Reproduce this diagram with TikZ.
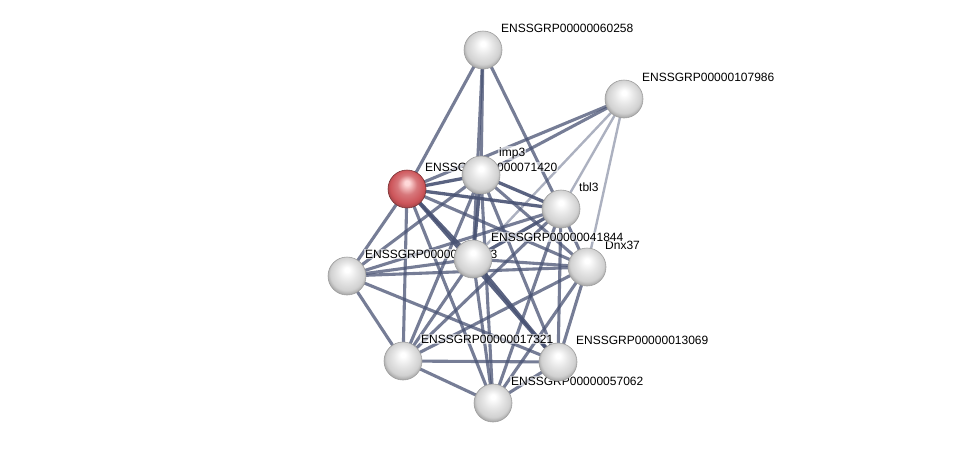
\documentclass[tikz,border=0pt]{standalone}
\usepackage{fontspec}
\setmainfont{Liberation Sans}
\usetikzlibrary{calc}
\definecolor{edgec}{RGB}{72,82,115}
\definecolor{redbody}{RGB}{205,85,90}
\pgfdeclareradialshading{gball}{\pgfpoint{0bp}{9bp}}{color(0bp)=(white); color(3bp)=(white); color(13bp)=(black!10); color(22bp)=(black!18); color(28bp)=(black!40); color(34bp)=(black!50)}
\pgfdeclareradialshading{rball}{\pgfpoint{0bp}{9bp}}{color(0bp)=(red!15!white); color(3bp)=(red!15!white); color(13bp)=(redbody!80!white); color(22bp)=(redbody); color(28bp)=(redbody!75!black); color(34bp)=(redbody!60!black)}
\begin{document}
\begin{tikzpicture}[x=1pt,y=-1pt,
  e/.style={draw=edgec,line width=3.1pt,opacity=0.75},
  ed/.style={draw=edgec,line width=3.3pt,opacity=0.9},
  el/.style={draw=edgec,line width=2.4pt,opacity=0.45},
  ball/.style={circle,minimum size=38pt,inner sep=0pt,shading=gball,draw=gray!75,line width=0.6pt},
  redball/.style={ball,shading=rball,draw=redbody!60!black},
  lab/.style={anchor=west,font=\fontsize{12}{14}\selectfont,inner sep=1pt,fill=white,fill opacity=0.6,text opacity=1}]
\useasboundingbox (0,0) rectangle (976,448);
\coordinate (cA) at (483,50);
\coordinate (cB) at (624,99);
\coordinate (cR) at (407,189);
\coordinate (cI) at (481,175);
\coordinate (cT) at (561,209);
\coordinate (cM) at (473,259);
\coordinate (cD) at (587,267);
\coordinate (cL) at (347,276);
\coordinate (cP) at (403,361);
\coordinate (cQ) at (558,362);
\coordinate (cS) at (493,403);
% edges
\draw[e] (cR) -- (cA); \draw[e] (cR) -- (cB); \draw[ed] (cR) -- (cI); \draw[ed] (cR) -- (cT);
\draw[ed] (cR) -- (cM); \draw[e] (cR) -- (cD); \draw[e] (cR) -- (cL); \draw[e] (cR) -- (cP);
\draw[ed] (cR) -- (cQ); \draw[e] (cR) -- (cS);
\draw[e] (cI) -- (cA); \draw[e] (cI) -- (cB); \draw[ed] (cI) -- (cT); \draw[ed] (cI) -- (cM);
\draw[e] (cI) -- (cD); \draw[e] (cI) -- (cL); \draw[e] (cI) -- (cP); \draw[e] (cI) -- (cQ); \draw[e] (cI) -- (cS);
\draw[e] (cA) -- (cT); \draw[e] (cA) -- (cM);
\draw[el] (cB) -- (cM); \draw[el] (cB) -- (cT); \draw[el] (cB) -- (cD);
\draw[ed] (cT) -- (cM); \draw[e] (cT) -- (cD); \draw[e] (cT) -- (cL); \draw[e] (cT) -- (cP);
\draw[e] (cT) -- (cQ); \draw[e] (cT) -- (cS);
\draw[e] (cM) -- (cD); \draw[e] (cM) -- (cL); \draw[e] (cM) -- (cP); \draw[ed] (cM) -- (cQ); \draw[e] (cM) -- (cS);
\draw[e] (cD) -- (cL); \draw[e] (cD) -- (cP); \draw[e] (cD) -- (cQ); \draw[e] (cD) -- (cS);
\draw[e] (cL) -- (cP); \draw[e] (cL) -- (cQ);
\draw[e] (cP) -- (cQ); \draw[e] (cP) -- (cS); \draw[e] (cQ) -- (cS);
% labels
\node[lab] (tA) at ($(cA)+(17,-22)$) {ENSSGRP00000060258};
\node[lab] (tB) at ($(cB)+(17,-22)$) {ENSSGRP00000107986};
\node[lab] (tR) at ($(cR)+(17,-22)$) {ENSSGRP00000071420};
\node[lab] (tI) at ($(cI)+(17,-22)$) {imp3};
\node[lab] (tT) at ($(cT)+(17,-22)$) {tbl3};
\node[lab] (tD) at ($(cD)+(17,-22)$) {Dnx37};
\node[lab] (tM) at ($(cM)+(17,-22)$) {ENSSGRP00000041844};
\node[lab] (tL) at ($(cL)+(17,-22)$) {ENSSGRP00000055553};
\node[lab] (tP) at ($(cP)+(17,-22)$) {ENSSGRP00000017321};
\node[lab] (tQ) at ($(cQ)+(17,-22)$) {ENSSGRP00000013069};
\node[lab] (tS) at ($(cS)+(17,-22)$) {ENSSGRP00000057062};
% nodes
\node[ball] (A) at (cA) {};
\node[ball] (B) at (cB) {};
\node[redball] (R) at (cR) {};
\node[ball] (I) at (cI) {};
\node[ball] (T) at (cT) {};
\node[ball] (M) at (cM) {};
\node[ball] (D) at (cD) {};
\node[ball] (L) at (cL) {};
\node[ball] (P) at (cP) {};
\node[ball] (Q) at (cQ) {};
\node[ball] (S) at (cS) {};
\end{tikzpicture}
\end{document}
